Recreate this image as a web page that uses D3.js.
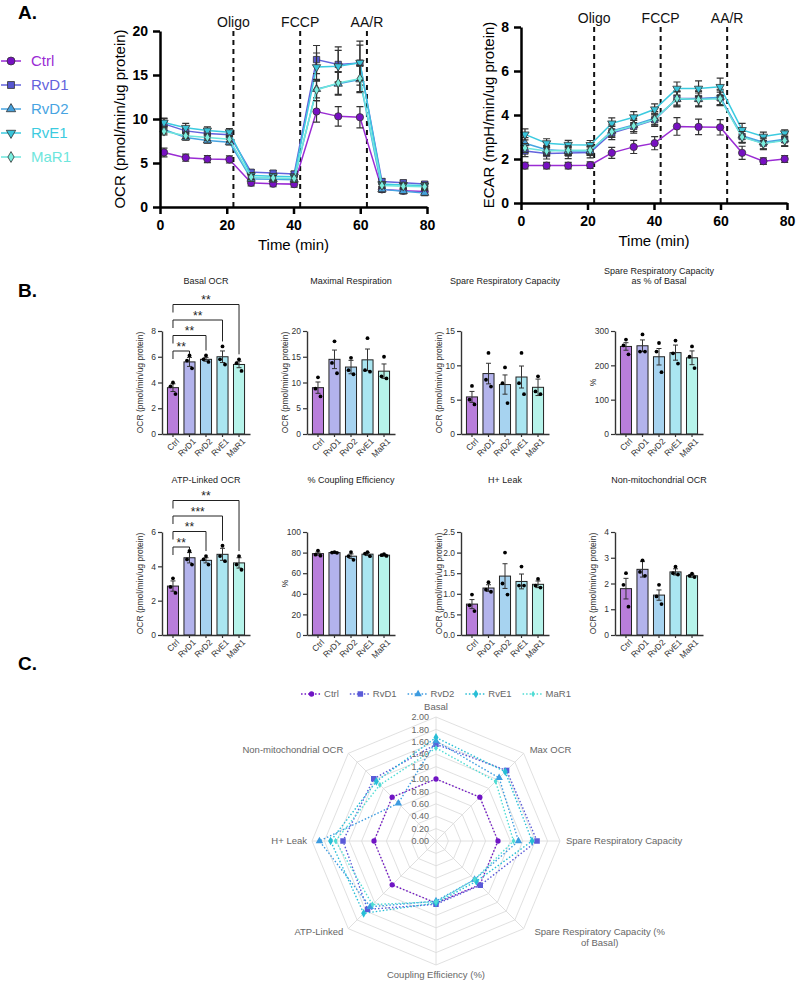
<!DOCTYPE html>
<html>
<head>
<meta charset="utf-8">
<script src="https://cdn.jsdelivr.net/npm/d3@7/dist/d3.min.js"></script>
<style>
  body { margin: 0; background: #fff; }
  #wrapper svg { display: block; }
</style>
</head>
<body>
<div id="wrapper"></div>
<script>
// 1. Data
const groups = ["Ctrl", "RvD1", "RvD2", "RvE1", "MaR1"]

const timePoints = [1.2, 7.7, 14.2, 20.8, 27.3, 33.9, 40.2, 46.9, 53.4, 59.9, 66.5, 72.9, 79.3]
const timeTicks = [0, 20, 40, 60, 80]
const injectionLabels = ["Oligo", "FCCP", "AA/R"]
const injectionTimes = [22, 42, 62]

const ocrTicks = [0, 5, 10, 15, 20]
const ocrCtrl = [6.2, 5.6, 5.45, 5.4, 2.75, 2.65, 2.6, 10.85, 10.3, 10.2, 2.0, 1.85, 1.75]
const ocrRvD1 = [9.45, 8.65, 8.35, 8.2, 3.95, 3.85, 3.75, 16.75, 16.2, 16.35, 2.9, 2.75, 2.6]
const ocrRvD2 = [8.8, 7.9, 7.55, 7.35, 3.2, 3.15, 3.1, 13.4, 14.0, 14.5, 2.0, 1.8, 1.6]
const ocrRvE1 = [9.6, 9.0, 8.7, 8.5, 3.6, 3.5, 3.45, 15.9, 16.0, 16.4, 2.6, 2.5, 2.45]
const ocrMaR1 = [8.6, 8.1, 7.9, 7.7, 3.4, 3.3, 3.25, 13.3, 14.1, 14.6, 2.45, 2.35, 2.3]
const ocrSemCtrl = [0.5, 0.4, 0.4, 0.4, 0.35, 0.35, 0.35, 1.2, 1.1, 1.2, 0.3, 0.3, 0.3]
const ocrSemRvD1 = [0.6, 0.5, 0.5, 0.5, 0.3, 0.3, 0.3, 1.6, 2.0, 2.5, 0.3, 0.3, 0.3]
const ocrSemRvD2 = [0.4, 0.3, 0.3, 0.3, 0.3, 0.3, 0.3, 1.0, 1.3, 1.5, 0.3, 0.3, 0.3]
const ocrSemRvE1 = [0.5, 0.5, 0.4, 0.4, 0.3, 0.3, 0.3, 1.6, 1.8, 2.0, 0.3, 0.3, 0.3]
const ocrSemMaR1 = [0.4, 0.3, 0.3, 0.3, 0.3, 0.3, 0.3, 1.2, 1.3, 1.5, 0.3, 0.3, 0.3]

const ecarTicks = [0, 2, 4, 6, 8]
const ecarCtrl = [1.7, 1.7, 1.7, 1.72, 2.28, 2.55, 2.72, 3.48, 3.46, 3.44, 2.28, 1.9, 2.0]
const ecarRvD1 = [2.36, 2.25, 2.27, 2.3, 3.18, 3.48, 3.78, 4.75, 4.75, 4.78, 3.02, 2.72, 2.87]
const ecarRvD2 = [2.72, 2.42, 2.36, 2.36, 3.28, 3.55, 3.85, 4.72, 4.72, 4.82, 3.06, 2.76, 2.9]
const ecarRvE1 = [3.12, 2.72, 2.65, 2.64, 3.62, 3.9, 4.26, 5.2, 5.2, 5.28, 3.32, 3.02, 3.17]
const ecarMaR1 = [2.5, 2.36, 2.4, 2.4, 3.24, 3.5, 3.8, 4.75, 4.7, 4.74, 3.0, 2.7, 2.84]
const ecarSemCtrl = [0.15, 0.15, 0.15, 0.15, 0.25, 0.3, 0.3, 0.4, 0.35, 0.35, 0.3, 0.15, 0.15]
const ecarSemRvD1 = [0.25, 0.25, 0.25, 0.25, 0.3, 0.3, 0.3, 0.35, 0.35, 0.35, 0.3, 0.3, 0.3]
const ecarSemRvD2 = [0.25, 0.2, 0.2, 0.2, 0.3, 0.3, 0.3, 0.35, 0.35, 0.35, 0.3, 0.3, 0.3]
const ecarSemRvE1 = [0.25, 0.2, 0.2, 0.2, 0.25, 0.25, 0.25, 0.3, 0.35, 0.4, 0.3, 0.2, 0.15]
const ecarSemMaR1 = [0.2, 0.2, 0.2, 0.2, 0.25, 0.25, 0.25, 0.3, 0.3, 0.3, 0.25, 0.25, 0.25]

// bar charts (B): mean, SEM, replicate dots per group
const basalMean = [3.6, 5.6, 5.8, 6.0, 5.4]
const basalSem = [0.3, 0.35, 0.15, 0.45, 0.25]
const basalDots = [[4.0, 3.7, 3.1], [6.1, 5.7, 5.1], [6.1, 5.8, 5.6], [6.8, 5.8, 5.4], [5.8, 5.5, 4.9]]
const basalTicks = [0, 2, 4, 6, 8]

const maxMean = [9.0, 14.5, 13.0, 14.4, 12.2]
const maxSem = [1.1, 1.8, 1.3, 2.1, 1.4]
const maxDots = [[11.0, 8.8, 7.3], [18.0, 13.8, 11.8], [14.8, 12.4, 11.6], [18.6, 12.4, 12.1], [15.0, 11.2, 10.8]]
const maxTicks = [0, 5, 10, 15, 20]

const spareMean = [5.4, 8.8, 7.2, 8.3, 6.8]
const spareSem = [0.8, 1.5, 1.4, 1.6, 1.2]
const spareDots = [[7.0, 5.0, 4.3], [11.8, 7.9, 6.9], [9.7, 7.4, 4.5], [11.8, 7.4, 5.8], [8.4, 6.2, 5.8]]
const spareTicks = [0, 5, 10, 15]

const pctMean = [255, 257, 225, 237, 222]
const pctSem = [11, 17, 24, 22, 20]
const pctDots = [[275, 258, 232], [290, 240, 240], [265, 240, 180], [272, 235, 205], [255, 225, 192]]
const pctTicks = [0, 100, 200, 300]

const atpMean = [2.85, 4.5, 4.35, 4.7, 4.2]
const atpSem = [0.3, 0.3, 0.15, 0.35, 0.3]
const atpDots = [[3.3, 2.8, 2.45], [4.9, 4.4, 4.1], [4.6, 4.4, 4.1], [5.2, 4.6, 4.3], [4.6, 4.1, 3.8]]
const atpTicks = [0, 2, 4, 6]

const coupMean = [79, 80, 76.5, 78.5, 77.5]
const coupSem = [1.5, 0.4, 2.2, 1.4, 1.0]
const coupDots = [[82, 78, 77], [80.5, 80, 79.8], [80.5, 76.5, 73], [80.5, 79, 76.5], [78.5, 77.5, 76.8]]
const coupTicks = [0, 20, 40, 60, 80, 100]

const leakMean = [0.75, 1.14, 1.43, 1.3, 1.23]
const leakSem = [0.11, 0.08, 0.3, 0.18, 0.08]
const leakDots = [[0.98, 0.72, 0.58], [1.28, 1.1, 1.05], [2.0, 1.25, 0.98], [1.66, 1.2, 1.2], [1.36, 1.2, 1.15]]
const leakTicks = [0, 0.5, 1.0, 1.5, 2.0, 2.5]

const nonMean = [1.8, 2.55, 1.55, 2.45, 2.3]
const nonSem = [0.4, 0.3, 0.2, 0.12, 0.06]
const nonDots = [[2.4, 1.95, 1.1], [2.9, 2.45, 2.3], [1.95, 1.5, 1.2], [2.65, 2.4, 2.35], [2.38, 2.3, 2.25]]
const nonTicks = [0, 1, 2, 3, 4]

const basalStars = ["**", "**", "**", "**"]        // Ctrl vs RvD1, RvD2, RvE1, MaR1
const atpStars = ["**", "**", "***", "**"]

// radar (C): fold change vs Ctrl
const radarAxes = ["Basal", "Max OCR", "Spare Respiratory Capacity", "Spare Respiratory Capacity (% of Basal)",
  "Coupling Efficiency (%)", "ATP-Linked", "H+ Leak", "Non-mitochondrial OCR"]
const radarTicks = [0, 0.2, 0.4, 0.6, 0.8, 1.0, 1.2, 1.4, 1.6, 1.8, 2.0]
const radarCtrl = [1, 1, 1, 1, 1, 1, 1, 1]
const radarRvD1 = [1.56, 1.61, 1.63, 1.01, 1.02, 1.56, 1.5, 1.42]
const radarRvD2 = [1.61, 1.44, 1.33, 0.88, 0.97, 1.5, 1.88, 0.86]
const radarRvE1 = [1.67, 1.58, 1.55, 0.92, 1.0, 1.65, 1.7, 1.36]
const radarMaR1 = [1.5, 1.36, 1.25, 0.88, 0.98, 1.45, 1.62, 1.28]

// 2. Canvas
const font = "'Liberation Sans', Arial, Helvetica, sans-serif"
const svg = d3.select("#wrapper").append("svg")
  .attr("width", 796).attr("height", 982)
  .style("font-family", font)

const symbolTypes = [d3.symbolCircle, d3.symbolSquare, d3.symbolTriangle, d3.symbolTriangle, d3.symbolDiamond]
const symbolRotate = [0, 0, 0, 180, 0]
const symbolSizes = [42, 40, 30, 30, 26]
const lineColorsA = ["#9a2bd4", "#6363dc", "#47a4e2", "#3ccbe0", "#6ee6dc"]
const fillColorsA = ["#7710c2", "#5656d0", "#44a0dc", "#39c4da", "#7aeedf"]
const barFills = ["#b87edb", "#b3b3ec", "#a7d3f0", "#aae6f1", "#b6f3ea"]
const radarColors = ["#7014c4", "#5a5ad8", "#3c9be0", "#28bed6", "#4fdcd4"]

function panelLabel(txt, x, y) {
  svg.append("text").text(txt).attr("x", x).attr("y", y)
    .attr("font-size", 19).attr("font-weight", "bold").attr("fill", "#000")
}

// 3. Panel A
function drawTimeCourse(cfg) {
  const x = d3.scaleLinear().domain([0, 80]).range([cfg.left, cfg.right])
  const y = d3.scaleLinear().domain([0, cfg.yMax]).range([cfg.bottom, cfg.top])
  const g = svg.append("g")

  injectionTimes.forEach((t, i) => {
    g.append("line")
      .attr("x1", x(t)).attr("x2", x(t)).attr("y1", cfg.top).attr("y2", cfg.bottom)
      .attr("stroke", "#111").attr("stroke-width", 2).attr("stroke-dasharray", "5,4")
    g.append("text").text(injectionLabels[i])
      .attr("x", x(t)).attr("y", cfg.top - 4)
      .attr("text-anchor", "middle").attr("font-size", 14).attr("fill", "#111")
  })

  cfg.means.forEach((vals, gi) => {
    const pts = timePoints.map((t, i) => ({ t, v: vals[i], e: cfg.sems[gi][i] }))
    const sg = g.append("g")
    sg.append("path").datum(pts)
      .attr("fill", "none").attr("stroke", lineColorsA[gi]).attr("stroke-width", 1.5)
      .attr("d", d3.line().x(d => x(d.t)).y(d => y(d.v)))
    sg.selectAll(".err").data(pts).join("path")
      .attr("d", d => {
        const xx = x(d.t), y1 = y(d.v + d.e), y2 = y(d.v - d.e)
        return `M${xx},${y1}V${y2}M${xx - 3.5},${y1}H${xx + 3.5}M${xx - 3.5},${y2}H${xx + 3.5}`
      })
      .attr("fill", "none").attr("stroke", "#333").attr("stroke-width", 1.2)
    sg.selectAll(".mk").data(pts).join("path")
      .attr("transform", d => `translate(${x(d.t)},${y(d.v)}) rotate(${symbolRotate[gi]})`)
      .attr("d", d3.symbol().type(symbolTypes[gi]).size(symbolSizes[gi]))
      .attr("fill", fillColorsA[gi]).attr("stroke", "#333").attr("stroke-width", 0.8)
  })

  const yAxis = g.append("g").attr("transform", `translate(${cfg.left},0)`)
    .call(d3.axisLeft(y).tickValues(cfg.ticks).tickSize(7).tickSizeOuter(0).tickPadding(5))
  const xAxis = g.append("g").attr("transform", `translate(0,${cfg.bottom})`)
    .call(d3.axisBottom(x).tickValues(timeTicks).tickSize(7).tickSizeOuter(0).tickPadding(6))
  ;[yAxis, xAxis].forEach(a => {
    a.select(".domain").attr("stroke", "#000").attr("stroke-width", 2.5)
    a.selectAll(".tick line").attr("stroke", "#000").attr("stroke-width", 2.5)
    a.selectAll(".tick text").attr("font-size", 14).attr("font-weight", "bold")
      .attr("fill", "#000").attr("font-family", font)
  })

  g.append("text").text(cfg.yLabel)
    .attr("transform", `translate(${cfg.yLabelX},${(cfg.top + cfg.bottom) / 2}) rotate(-90)`)
    .attr("text-anchor", "middle").attr("font-size", 15).attr("fill", "#000")
  g.append("text").text("Time (min)")
    .attr("x", (cfg.left + cfg.right) / 2).attr("y", cfg.bottom + 43)
    .attr("text-anchor", "middle").attr("font-size", 15).attr("fill", "#000")
}

panelLabel("A.", 18, 19)

drawTimeCourse({
  left: 160, right: 427, top: 31, bottom: 207, yMax: 20, ticks: ocrTicks,
  yLabel: "OCR (pmol/min/ug protein)", yLabelX: 125,
  means: [ocrCtrl, ocrRvD1, ocrRvD2, ocrRvE1, ocrMaR1],
  sems: [ocrSemCtrl, ocrSemRvD1, ocrSemRvD2, ocrSemRvE1, ocrSemMaR1],
})

drawTimeCourse({
  left: 521, right: 787, top: 27, bottom: 203, yMax: 8, ticks: ecarTicks,
  yLabel: "ECAR (mpH/min/ug protein)", yLabelX: 494,
  means: [ecarCtrl, ecarRvD1, ecarRvD2, ecarRvE1, ecarMaR1],
  sems: [ecarSemCtrl, ecarSemRvD1, ecarSemRvD2, ecarSemRvE1, ecarSemMaR1],
})

// legend for A
const legendA = svg.append("g")
groups.forEach((name, gi) => {
  const yy = 61 + gi * 24
  legendA.append("line").attr("x1", 1).attr("x2", 21).attr("y1", yy).attr("y2", yy)
    .attr("stroke", lineColorsA[gi]).attr("stroke-width", 1.5)
  legendA.append("path")
    .attr("transform", `translate(11,${yy}) rotate(${symbolRotate[gi]})`)
    .attr("d", d3.symbol().type(symbolTypes[gi]).size(symbolSizes[gi] + 8))
    .attr("fill", fillColorsA[gi]).attr("stroke", "#333").attr("stroke-width", 0.8)
  legendA.append("text").text(name).attr("x", 31).attr("y", yy).attr("dy", "0.36em")
    .attr("font-size", 15).attr("fill", lineColorsA[gi])
})

// 4. Panel B
panelLabel("B.", 18, 297)

const dotOffsets = [0, -2.5, 2.5]

function drawBars(cfg) {
  const x = d3.scaleBand().domain(groups).range([cfg.left, cfg.left + 88])
    .paddingInner(0.33).paddingOuter(0.33)
  const y = d3.scaleLinear().domain([0, cfg.yMax]).range([cfg.bottom, cfg.top])
  const g = svg.append("g")

  const titleLines = cfg.title.split("\n")
  titleLines.forEach((line, i) => {
    g.append("text").text(line)
      .attr("x", cfg.left + 44)
      .attr("y", cfg.titleY - (titleLines.length - 1 - i) * 10.5)
      .attr("text-anchor", "middle").attr("font-size", 9).attr("fill", "#222")
  })

  const rows = groups.map((name, i) => ({ name, i, m: cfg.mean[i], s: cfg.sem[i], dots: cfg.dots[i] }))

  g.selectAll(".bar").data(rows).join("rect")
    .attr("x", d => x(d.name)).attr("width", x.bandwidth())
    .attr("y", d => y(d.m)).attr("height", d => y(0) - y(d.m))
    .attr("fill", d => barFills[d.i]).attr("stroke", "#222").attr("stroke-width", 1)

  g.selectAll(".err").data(rows).join("path")
    .attr("d", d => {
      const cx = x(d.name) + x.bandwidth() / 2, y1 = y(d.m + d.s), y2 = y(d.m - d.s)
      return `M${cx},${y1}V${y2}M${cx - 2.5},${y1}H${cx + 2.5}M${cx - 2.5},${y2}H${cx + 2.5}`
    })
    .attr("fill", "none").attr("stroke", "#333").attr("stroke-width", 1)

  rows.forEach(d => {
    const cx = x(d.name) + x.bandwidth() / 2
    g.selectAll(null).data(d.dots).join("circle")
      .attr("cx", (v, k) => cx + dotOffsets[k]).attr("cy", v => y(v)).attr("r", 1.9)
      .attr("fill", "#000")
  })

  const yAxis = g.append("g").attr("transform", `translate(${cfg.left},0)`)
    .call(d3.axisLeft(y).tickValues(cfg.ticks).tickSize(4).tickSizeOuter(0).tickPadding(2)
      .tickFormat(cfg.fmt || d3.format("d")))
  const xAxis = g.append("g").attr("transform", `translate(0,${cfg.bottom})`)
    .call(d3.axisBottom(x).tickSize(3).tickSizeOuter(0).tickPadding(2))
  ;[yAxis, xAxis].forEach(a => {
    a.select(".domain").attr("stroke", "#333").attr("stroke-width", 1.4)
    a.selectAll(".tick line").attr("stroke", "#333").attr("stroke-width", 1.2)
    a.selectAll(".tick text").attr("font-size", 8.5).attr("fill", "#333").attr("font-family", font)
  })
  xAxis.selectAll(".tick text")
    .attr("transform", "translate(2,3) rotate(-45)")
    .attr("text-anchor", "end").attr("dy", "0.35em").attr("y", 4)

  g.append("text").text(cfg.yLabel)
    .attr("transform", `translate(${cfg.left - 19},${(cfg.top + cfg.bottom) / 2}) rotate(-90)`)
    .attr("text-anchor", "middle").attr("font-size", 8.5).attr("fill", "#333")

  if (cfg.stars) {
    const x0 = x("Ctrl") + x.bandwidth() / 2
    cfg.stars.forEach((label, k) => {
      const target = groups[k + 1]
      const x1 = x(target) + x.bandwidth() / 2
      const by = cfg.top + cfg.bracketStart - k * 15.5
      const legEnd = Math.max(by + 3, y(d3.max(cfg.dots[k + 1])) - 5)
      g.append("path")
        .attr("d", `M${x0},${by + 8}V${by}H${x1}V${legEnd}`)
        .attr("fill", "none").attr("stroke", "#222").attr("stroke-width", 1)
      g.append("text").text(label)
        .attr("x", (x0 + x1) / 2).attr("y", by - 0.5)
        .attr("text-anchor", "middle").attr("font-size", 12).attr("fill", "#222")
    })
  }
}

const row1 = { top: 331, bottom: 434, titleY: 284 }
const row2 = { top: 532, bottom: 635, titleY: 483 }
const colX = [162, 307, 461, 615]
const ocrLabel = "OCR (pmol/min/ug protein)"

drawBars({ ...row1, left: colX[0], title: "Basal OCR", yMax: 8, ticks: basalTicks,
  mean: basalMean, sem: basalSem, dots: basalDots, yLabel: ocrLabel,
  stars: basalStars, bracketStart: 20 })
drawBars({ ...row1, left: colX[1], title: "Maximal Respiration", yMax: 20, ticks: maxTicks,
  mean: maxMean, sem: maxSem, dots: maxDots, yLabel: ocrLabel })
drawBars({ ...row1, left: colX[2], title: "Spare Respiratory Capacity", yMax: 15, ticks: spareTicks,
  mean: spareMean, sem: spareSem, dots: spareDots, yLabel: ocrLabel })
drawBars({ ...row1, left: colX[3], title: "Spare Respiratory Capacity\nas % of Basal", yMax: 300,
  ticks: pctTicks, mean: pctMean, sem: pctSem, dots: pctDots, yLabel: "%" })

drawBars({ ...row2, left: colX[0], title: "ATP-Linked OCR", yMax: 6, ticks: atpTicks,
  mean: atpMean, sem: atpSem, dots: atpDots, yLabel: ocrLabel,
  stars: atpStars, bracketStart: 15 })
drawBars({ ...row2, left: colX[1], title: "% Coupling Efficiency", yMax: 100, ticks: coupTicks,
  mean: coupMean, sem: coupSem, dots: coupDots, yLabel: "%" })
drawBars({ ...row2, left: colX[2], title: "H+ Leak", yMax: 2.5, ticks: leakTicks,
  mean: leakMean, sem: leakSem, dots: leakDots, yLabel: ocrLabel, fmt: d3.format(".1f") })
drawBars({ ...row2, left: colX[3], title: "Non-mitochondrial OCR", yMax: 4, ticks: nonTicks,
  mean: nonMean, sem: nonSem, dots: nonDots, yLabel: ocrLabel })

// 5. Panel C (radar)
panelLabel("C.", 18, 670)

const cx = 436, cy = 841
const r = d3.scaleLinear().domain([0, 2]).range([0, 124])
const nAx = radarAxes.length
const pt = (i, v) => {
  const a = i * 2 * Math.PI / nAx
  return [cx + r(v) * Math.sin(a), cy - r(v) * Math.cos(a)]
}
const radar = svg.append("g")

radarTicks.filter(v => v > 0).forEach(v => {
  radar.append("path")
    .attr("d", d3.line()(d3.range(nAx).map(i => pt(i, v))) + "Z")
    .attr("fill", "none").attr("stroke", "#dcdcdc").attr("stroke-width", 0.9)
})
d3.range(nAx).forEach(i => {
  const [x2, y2] = pt(i, 2)
  radar.append("line").attr("x1", cx).attr("y1", cy).attr("x2", x2).attr("y2", y2)
    .attr("stroke", "#dcdcdc").attr("stroke-width", 0.9)
})

const radarSeries = [radarCtrl, radarRvD1, radarRvD2, radarRvE1, radarMaR1]
const radarSymbols = [d3.symbolCircle, d3.symbolSquare, d3.symbolTriangle, d3.symbolDiamond, d3.symbolDiamond]
const radarSizes = [22, 30, 24, 22, 12]

radarSeries.forEach((vals, gi) => {
  const pts = vals.map((v, i) => pt(i, v))
  radar.append("path")
    .attr("d", d3.line()(pts) + "Z")
    .attr("fill", "none").attr("stroke", radarColors[gi]).attr("stroke-width", 1.4)
    .attr("stroke-dasharray", "1.5,2")
  radar.selectAll(null).data(pts).join("path")
    .attr("transform", d => `translate(${d[0]},${d[1]})`)
    .attr("d", d3.symbol().type(radarSymbols[gi]).size(radarSizes[gi]))
    .attr("fill", radarColors[gi])
})

radarTicks.forEach(v => {
  radar.append("text").text(d3.format(".2f")(v))
    .attr("x", cx - 7).attr("y", cy - r(v)).attr("dy", "0.35em")
    .attr("text-anchor", "end").attr("font-size", 9).attr("fill", "#666")
})

radarAxes.forEach((label, i) => {
  const a = i * 2 * Math.PI / nAx
  const [vx, vy] = pt(i, 2)
  const s = Math.sin(a), c = Math.cos(a)
  const anchor = s > 0.1 ? "start" : s < -0.1 ? "end" : "middle"
  const lx = vx + (s > 0.1 ? 6 : s < -0.1 ? -5 : 0)
  const ly = vy + (c > 0.9 ? -10 : c < -0.9 ? 10 : c > 0.1 ? -4 : c < -0.1 ? 3 : 0)
  if (label === "Spare Respiratory Capacity (% of Basal)") {
    const t = radar.append("text").attr("font-size", 9.5).attr("fill", "#666").attr("text-anchor", "middle")
    t.append("tspan").text("Spare Respiratory Capacity (%").attr("x", lx + 70).attr("y", ly).attr("dy", "0.35em")
    t.append("tspan").text("of Basal)").attr("x", lx + 70).attr("y", ly + 11).attr("dy", "0.35em")
  } else {
    radar.append("text").text(label)
      .attr("x", lx).attr("y", ly).attr("dy", "0.35em")
      .attr("text-anchor", anchor).attr("font-size", 9.5).attr("fill", "#666")
  }
})

// legend for C
const legendC = svg.append("g")
let lxPos = 0
groups.forEach((name, gi) => {
  const item = legendC.append("g").attr("transform", `translate(${lxPos},0)`)
  item.append("line").attr("x1", 0).attr("x2", 21).attr("y1", 0).attr("y2", 0)
    .attr("stroke", radarColors[gi]).attr("stroke-width", 1.4).attr("stroke-dasharray", "1.5,2")
  item.append("path").attr("transform", "translate(10.5,0)")
    .attr("d", d3.symbol().type(radarSymbols[gi]).size(radarSizes[gi]))
    .attr("fill", radarColors[gi])
  const t = item.append("text").text(name).attr("x", 23).attr("dy", "0.35em")
    .attr("font-size", 9.5).attr("fill", "#666")
  lxPos += 23 + t.node().getComputedTextLength() + 11
})
legendC.attr("transform", `translate(${cx - (lxPos - 11) / 2},694)`)
</script>
</body>
</html>
